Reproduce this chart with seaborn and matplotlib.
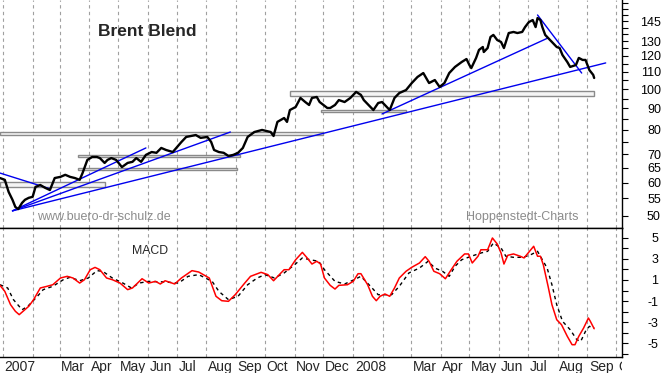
import matplotlib
matplotlib.use("Agg")
import matplotlib.pyplot as plt
import matplotlib.dates as mdates
from matplotlib.patches import Rectangle
from matplotlib.ticker import FixedLocator, FuncFormatter, NullLocator
from matplotlib.transforms import Bbox, TransformedBbox, ScaledTranslation
import pandas as pd
import seaborn as sns

sns.set_style("white")
plt.rcParams["font.family"] = ["Liberation Sans", "DejaVu Sans"]

# Brent price
price_dates = [
    "2006-12-29", "2007-01-03", "2007-01-07", "2007-01-11", "2007-01-14", "2007-01-17", "2007-01-21",
    "2007-01-24", "2007-01-28", "2007-02-01", "2007-02-04", "2007-02-09", "2007-02-14", "2007-02-19",
    "2007-02-24", "2007-03-02", "2007-03-07", "2007-03-12", "2007-03-17", "2007-03-22", "2007-03-25",
    "2007-03-30", "2007-04-04", "2007-04-09", "2007-04-12", "2007-04-17", "2007-04-20", "2007-04-24",
    "2007-04-29", "2007-05-05", "2007-05-11", "2007-05-16", "2007-05-20", "2007-05-25", "2007-05-30",
    "2007-06-05", "2007-06-10", "2007-06-15", "2007-06-20", "2007-06-27", "2007-07-06", "2007-07-11",
    "2007-07-21", "2007-07-26", "2007-08-02", "2007-08-06", "2007-08-09", "2007-08-14", "2007-08-19",
    "2007-08-24", "2007-08-29", "2007-09-03", "2007-09-08", "2007-09-13", "2007-09-20", "2007-09-28",
    "2007-10-07", "2007-10-10", "2007-10-14", "2007-10-21", "2007-10-24", "2007-10-27", "2007-11-02",
    "2007-11-07", "2007-11-12", "2007-11-16", "2007-11-19", "2007-11-24", "2007-11-27", "2007-12-01",
    "2007-12-05", "2007-12-08", "2007-12-13", "2007-12-17", "2007-12-23", "2007-12-29", "2008-01-04",
    "2008-01-09", "2008-01-12", "2008-01-17", "2008-01-22", "2008-01-27", "2008-01-31", "2008-02-05",
    "2008-02-08", "2008-02-13", "2008-02-18", "2008-02-25", "2008-03-02", "2008-03-08", "2008-03-14",
    "2008-03-20", "2008-03-26", "2008-03-31", "2008-04-05", "2008-04-10", "2008-04-16", "2008-04-23",
    "2008-04-28", "2008-05-01", "2008-05-03", "2008-05-08", "2008-05-11", "2008-05-15", "2008-05-16",
    "2008-05-20", "2008-05-23", "2008-05-26", "2008-05-30", "2008-06-03", "2008-06-06", "2008-06-08",
    "2008-06-11", "2008-06-16", "2008-06-20", "2008-06-25", "2008-06-28", "2008-07-02", "2008-07-06",
    "2008-07-09", "2008-07-11", "2008-07-14", "2008-07-16", "2008-07-19", "2008-07-22", "2008-07-27",
    "2008-07-31", "2008-08-03", "2008-08-06", "2008-08-11", "2008-08-14", "2008-08-20", "2008-08-23",
    "2008-08-27", "2008-08-30", "2008-09-03", "2008-09-07", "2008-09-08",
]
price_vals = [
    61.5, 60.9, 57.0, 54.6, 52.5, 51.9, 53.7,
    54.6, 55.2, 55.5, 58.6, 59.2, 58.3, 57.6,
    61.5, 61.9, 62.6, 61.9, 61.5, 60.9, 63.2,
    67.9, 69.0, 69.0, 68.6, 66.8, 67.9, 68.6,
    67.9, 65.3, 66.8, 67.2, 68.6, 67.2, 69.8,
    70.9, 70.6, 72.5, 71.7, 70.9, 74.9, 77.0,
    77.8, 76.6, 77.0, 74.9, 71.7, 70.9, 70.6,
    69.4, 69.8, 70.6, 72.5, 77.0, 79.1, 80.0,
    79.1, 77.4, 83.6, 85.4, 83.6, 89.2, 90.7,
    95.3, 93.2, 91.7, 95.3, 95.8, 93.2, 91.7,
    90.2, 90.2, 91.7, 94.2, 93.2, 95.3, 98.5,
    96.9, 94.2, 91.7, 89.2, 92.7, 93.2, 90.7,
    89.2, 95.3, 97.9, 99.5, 103.4, 106.9, 109.2,
    103.4, 105.1, 101.2, 103.4, 109.2, 112.9, 116.0,
    117.9, 114.1, 112.2, 118.6, 123.9, 125.9, 122.5,
    125.2, 133.0, 134.5, 130.8, 129.4, 125.2, 129.4,
    135.9, 136.7, 135.9, 136.7, 140.4, 144.3, 145.9,
    140.4, 147.5, 145.9, 140.4, 134.5, 132.3, 128.7,
    125.9, 125.2, 120.5, 116.0, 112.9, 114.1, 118.6,
    117.3, 117.3, 111.0, 108.1, 106.3,
]

# MACD line
macd_dates = [
    "2006-12-29", "2007-01-03", "2007-01-09", "2007-01-14", "2007-01-18", "2007-01-22", "2007-01-28",
    "2007-02-02", "2007-02-09", "2007-02-16", "2007-02-22", "2007-03-02", "2007-03-09", "2007-03-15",
    "2007-03-22", "2007-03-27", "2007-04-02", "2007-04-07", "2007-04-12", "2007-04-19", "2007-04-25",
    "2007-05-03", "2007-05-11", "2007-05-16", "2007-05-26", "2007-06-02", "2007-06-09", "2007-06-14",
    "2007-06-19", "2007-06-29", "2007-07-06", "2007-07-17", "2007-07-24", "2007-08-04", "2007-08-11",
    "2007-08-17", "2007-08-24", "2007-08-31", "2007-09-10", "2007-09-16", "2007-09-27", "2007-10-04",
    "2007-10-10", "2007-10-16", "2007-10-21", "2007-10-26", "2007-11-02", "2007-11-09", "2007-11-14",
    "2007-11-19", "2007-11-24", "2007-11-28", "2007-12-02", "2007-12-08", "2007-12-13", "2007-12-17",
    "2007-12-26", "2008-01-01", "2008-01-06", "2008-01-09", "2008-01-16", "2008-01-21", "2008-01-25",
    "2008-01-29", "2008-02-03", "2008-02-08", "2008-02-13", "2008-02-18", "2008-02-25", "2008-03-02",
    "2008-03-10", "2008-03-16", "2008-03-20", "2008-03-25", "2008-03-31", "2008-04-06", "2008-04-11",
    "2008-04-18", "2008-04-26", "2008-04-30", "2008-05-04", "2008-05-10", "2008-05-13", "2008-05-20",
    "2008-05-25", "2008-05-30", "2008-06-03", "2008-06-06", "2008-06-10", "2008-06-16", "2008-06-23",
    "2008-06-27", "2008-07-04", "2008-07-07", "2008-07-11", "2008-07-14", "2008-07-17", "2008-07-22",
    "2008-07-26", "2008-07-31", "2008-08-05", "2008-08-11", "2008-08-16", "2008-08-19", "2008-08-23",
    "2008-08-28", "2008-09-02", "2008-09-04", "2008-09-08",
]
macd_vals = [
    0.49, -0.08, -1.35, -1.98, -2.30, -1.98, -1.50,
    -0.87, 0.24, 0.40, 0.55, 1.19, 1.35, 1.19,
    0.71, 1.03, 1.98, 2.20, 1.98, 1.19, 1.03,
    0.71, 0.08, 0.24, 1.12, 0.71, 0.87, 0.62,
    0.93, 0.62, 1.19, 1.89, 1.76, 1.19, -0.55,
    -0.97, -1.03, -0.40, 0.71, 1.35, 1.73, 1.51,
    0.93, 1.51, 1.98, 1.98, 2.93, 3.63, 3.10,
    2.52, 2.78, 2.52, 1.19, 0.49, 0.14, 0.49,
    0.55, 0.87, 1.60, 1.60, 0.55, -0.55, -0.97,
    -0.55, -0.33, -0.55, 0.24, 1.19, 1.83, 2.21,
    2.62, 3.22, 2.78, 1.83, 1.60, 1.12, 1.83,
    2.78, 3.48, 3.48, 2.62, 3.26, 3.88, 3.88,
    5.00, 4.43, 3.57, 2.52, 3.35, 3.48, 3.26,
    3.10, 3.88, 4.21, 3.26, 3.26, 2.46, 0.40,
    -1.35, -2.78, -3.26, -4.36, -5.16, -5.16, -4.36,
    -3.57, -2.62, -2.93, -3.64,
]

# signal line (dashed)
signal_dates = [
    "2006-12-29", "2007-01-06", "2007-01-12", "2007-01-21", "2007-01-27", "2007-02-06", "2007-02-12",
    "2007-02-22", "2007-03-05", "2007-03-12", "2007-03-22", "2007-03-31", "2007-04-09", "2007-04-15",
    "2007-04-25", "2007-05-06", "2007-05-15", "2007-05-23", "2007-06-02", "2007-06-19", "2007-07-03",
    "2007-07-13", "2007-07-24", "2007-08-07", "2007-08-14", "2007-08-24", "2007-09-03", "2007-09-13",
    "2007-09-23", "2007-10-01", "2007-10-11", "2007-10-21", "2007-11-01", "2007-11-09", "2007-11-17",
    "2007-11-26", "2007-12-02", "2007-12-13", "2007-12-23", "2008-01-02", "2008-01-09", "2008-01-19",
    "2008-01-27", "2008-02-05", "2008-02-10", "2008-02-18", "2008-02-28", "2008-03-10", "2008-03-19",
    "2008-03-26", "2008-04-03", "2008-04-10", "2008-04-16", "2008-04-23", "2008-05-03", "2008-05-13",
    "2008-05-20", "2008-05-26", "2008-06-03", "2008-06-08", "2008-06-16", "2008-06-26", "2008-07-04",
    "2008-07-11", "2008-07-16", "2008-07-21", "2008-07-26", "2008-07-31", "2008-08-06", "2008-08-14",
    "2008-08-21", "2008-08-25", "2008-08-30", "2008-09-03", "2008-09-08",
]
signal_vals = [
    0.55, 0.24, -0.87, -1.83, -1.50, -0.55, 0.08,
    0.40, 1.03, 1.26, 0.93, 1.19, 1.89, 1.83,
    1.19, 0.71, 0.24, 0.71, 0.87, 0.81, 0.71,
    1.35, 1.51, 0.87, -0.08, -0.87, -0.55, 0.55,
    1.19, 1.51, 1.19, 1.67, 2.46, 3.10, 2.93,
    2.78, 1.98, 0.87, 0.62, 1.03, 1.35, 0.40,
    -0.40, -0.40, -0.40, 0.40, 1.67, 2.14, 2.78,
    2.14, 1.83, 1.35, 2.30, 2.93, 3.26, 3.57,
    3.73, 4.52, 4.05, 3.26, 3.16, 3.16, 3.41,
    3.73, 2.93, 2.14, 0.55, -1.35, -2.93, -3.73,
    -4.69, -4.84, -3.88, -3.41, -3.57,
]

# blue trend lines
trend_start = ["2006-12-29", "2007-01-11", "2007-01-11", "2007-01-11", "2008-01-31", "2008-07-11"]
trend_end = ["2007-02-19", "2007-05-30", "2007-08-26", "2008-09-20", "2008-07-22", "2008-08-26"]
trend_from = [63.2, 51.4, 51.4, 51.4, 87.3, 150.0]
trend_to = [58.0, 72.5, 79.1, 115.4, 132.3, 109.2]

# grey support/resistance boxes
box_start = ["2006-12-29", "2007-03-20", "2007-03-20", "2006-12-29", "2007-10-27", "2007-11-28"]
box_end = ["2007-12-01", "2007-09-05", "2007-09-02", "2007-04-17", "2008-09-08", "2008-02-25"]
box_low = [77.8, 69.0, 64.3, 58.6, 96.3, 88.3]
box_high = [79.2, 69.8, 65.0, 60.2, 99.0, 89.2]

price_ticks = list(range(50, 165, 5))
price_labelled = [50, 55, 60, 65, 70, 80, 90, 100, 110, 120, 130, 145]
macd_ticks = list(range(-6, 7))
macd_labelled = [-5, -3, -1, 1, 3, 5]

month_starts = pd.date_range("2007-01-01", "2008-10-01", freq="MS")
month_labels = ["2007", "", "Mar", "Apr", "May", "Jun", "Jul", "Aug", "Sep", "Oct", "Nov", "Dec",
                "2008", "", "Mar", "Apr", "May", "Jun", "Jul", "Aug", "Sep", "Oct"]

W, H = 663, 373
fig = plt.figure(figsize=(W / 100, H / 100), dpi=100)
ax1 = fig.add_axes([0, 145 / H, 622 / W, 228 / H])
ax2 = fig.add_axes([0, 16 / H, 622 / W, 129 / H], sharex=ax1)

# price panel
for s, e, lo, hi in zip(box_start, box_end, box_low, box_high):
    x0 = mdates.date2num(pd.Timestamp(s))
    x1 = mdates.date2num(pd.Timestamp(e))
    ax1.add_patch(Rectangle((x0, lo), x1 - x0, hi - lo, facecolor="#f4f4f4",
                            edgecolor="#8a8a8a", lw=1.0, zorder=2))
for s, e, a, b in zip(trend_start, trend_end, trend_from, trend_to):
    sns.lineplot(x=pd.to_datetime([s, e]), y=[a, b], ax=ax1, color="#0000ee", lw=1, zorder=3)
sns.lineplot(x=pd.to_datetime(price_dates), y=price_vals, ax=ax1, color="black", lw=1.7, zorder=4)

ax1.set_yscale("log")
ax1.set_ylim(46.8, 162.8)
ax1.set_xlim(pd.Timestamp("2006-12-29"), pd.Timestamp("2008-10-07"))
ax1.yaxis.tick_right()
ax1.yaxis.set_major_locator(FixedLocator(price_ticks))
ax1.yaxis.set_major_formatter(FuncFormatter(lambda v, _: f"{v:g}" if round(v) in price_labelled else ""))
ax1.yaxis.set_minor_locator(NullLocator())
ax1.tick_params(axis="y", which="major", direction="out", length=4, width=0.8, pad=24,
                labelsize=9, colors="black")
ax1.xaxis.set_major_locator(mdates.MonthLocator())
ax1.tick_params(axis="x", bottom=False, labelbottom=False)
ax1.grid(axis="x", color="#a0a0a0", linestyle=(0, (3, 3)), lw=0.8)
ax1.set(xlabel=None, ylabel=None)
for side in ["top", "left"]:
    ax1.spines[side].set_visible(False)
for side in ["right", "bottom"]:
    ax1.spines[side].set_color("black")
    ax1.spines[side].set_linewidth(1)

ax1.text(0.236, 0.86, "Brent Blend", transform=ax1.transAxes, ha="center", va="center",
         fontsize=12.5, fontweight="bold")
ax1.text(0.06, 0.037, "www.buero-dr-schulz.de", transform=ax1.transAxes, ha="left",
         va="baseline", fontsize=9, color="#8c8c8c")
ax1.text(0.749, 0.037, "Hoppenstedt-Charts", transform=ax1.transAxes, ha="left",
         va="baseline", fontsize=9, color="#8c8c8c")

# MACD panel
sns.lineplot(x=pd.to_datetime(signal_dates), y=signal_vals, ax=ax2, color="black", lw=1,
             linestyle=(0, (2.5, 2.5)), zorder=3)
sns.lineplot(x=pd.to_datetime(macd_dates), y=macd_vals, ax=ax2, color="red", lw=1.1, zorder=4)
ax2.set_ylim(-6.33, 5.95)
ax2.yaxis.tick_right()
ax2.yaxis.set_major_locator(FixedLocator(macd_ticks))
ax2.yaxis.set_major_formatter(FuncFormatter(lambda v, _: str(int(round(v))) if round(v) in macd_labelled else ""))
ax2.tick_params(axis="y", which="major", direction="out", length=4, width=0.8, pad=22,
                labelsize=9, colors="black")
ax2.tick_params(axis="x", which="major", direction="out", length=11.5, width=1,
                color="black", labelbottom=False)
ax2.grid(axis="x", color="#a0a0a0", linestyle=(0, (3, 3)), lw=0.8)
ax2.set(xlabel=None, ylabel=None)
ax2.spines["left"].set_visible(False)
for side in ["right", "bottom", "top"]:
    ax2.spines[side].set_color("black")
    ax2.spines[side].set_linewidth(1)
ax2.text(0.241, 0.798, "MACD", transform=ax2.transAxes, ha="center", va="baseline", fontsize=8.8)

for ax in (ax1, ax2):
    for t in ax.get_yticklabels():
        t.set_horizontalalignment("right")

# month labels under the separators, clipped at the plot edge
clip = TransformedBbox(Bbox([[0, 0], [622 / W, 1]]), fig.transFigure)
shift = ScaledTranslation(1.2 / 72, 0, fig.dpi_scale_trans)
for d, lab in zip(month_starts, month_labels):
    if not lab:
        continue
    t = fig.text(mdates.date2num(d), -0.02, lab, transform=ax2.get_xaxis_transform() + shift,
                 ha="left", va="top", fontsize=10)
    t.set_clip_box(clip)

fig.savefig("out.png", dpi=100, facecolor="white")
